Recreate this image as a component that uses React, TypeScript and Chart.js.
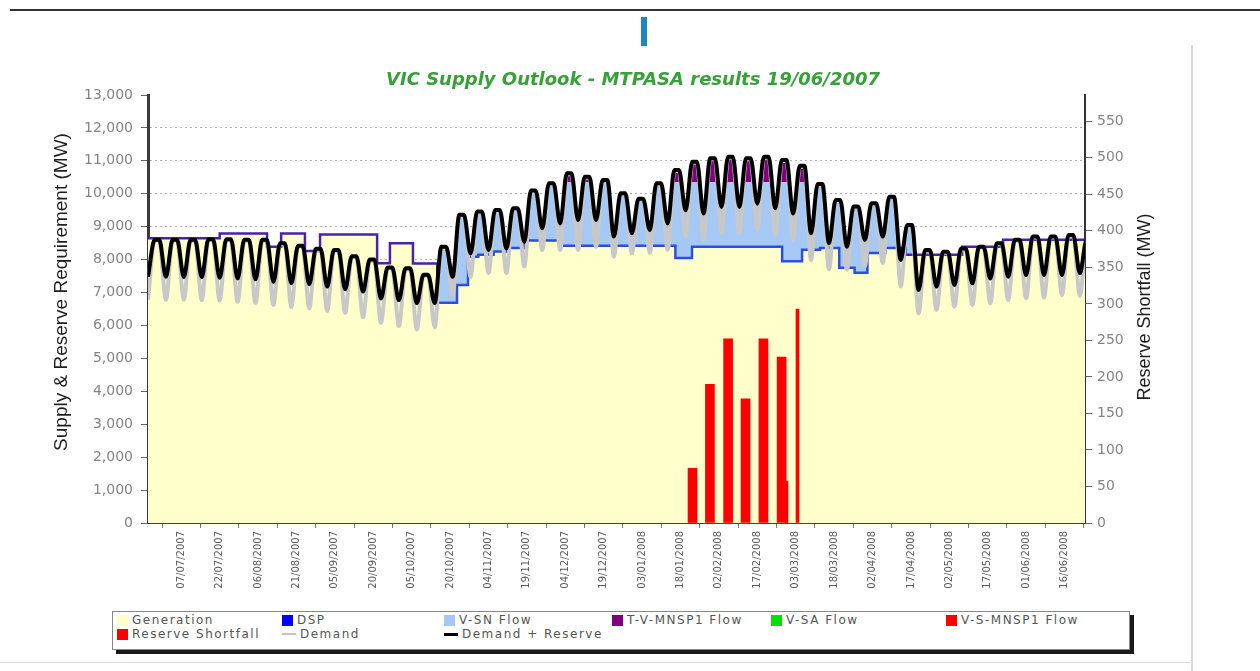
import React, { useEffect, useRef } from 'react';
import { Chart, registerables } from 'chart.js';

Chart.register(...registerables);

// ---------------- data ----------------
const START_DATE_UTC = Date.UTC(2007, 5, 24); // 24/06/2007 = day 0
const X_MAX_DAYS = 366;

const xTickLabels = [
  '07/07/2007', '22/07/2007', '06/08/2007', '21/08/2007', '05/09/2007', '20/09/2007',
  '05/10/2007', '20/10/2007', '04/11/2007', '19/11/2007', '04/12/2007', '19/12/2007',
  '03/01/2008', '18/01/2008', '02/02/2008', '17/02/2008', '03/03/2008', '18/03/2008',
  '02/04/2008', '17/04/2008', '02/05/2008', '17/05/2008', '01/06/2008', '16/06/2008',
];

// Demand + Reserve: weekly low (weekend) and weekday high, MW
const demandReserveLows = [
  7480, 7480, 7470, 7470, 7450, 7430, 7400, 7330, 7280, 7250, 7180, 7100, 7030, 6820, 6770, 6680,
  6680, 7480, 8190, 8290, 8340, 8545, 8950, 9100, 9200, 9200, 8700, 8800, 8900, 9100, 9500, 9400,
  9600, 9600, 9700, 9560, 9400, 8800, 8500, 8390, 8600, 8700, 7990, 7080, 7180, 7230, 7280, 7430,
  7480, 7530, 7530, 7530, 7585,
];
const demandReserveHighs = [
  8600, 8600, 8600, 8620, 8620, 8600, 8600, 8500, 8420, 8330, 8290, 8100, 8000, 7760, 7740, 7540,
  8390, 9360, 9460, 9510, 9560, 10100, 10320, 10620, 10520, 10420, 10015, 9850, 10320, 10720, 10975, 11080,
  11125, 11080, 11125, 11025, 10850, 10300, 9810, 9610, 9710, 9910, 9050, 8290, 8240, 8340, 8390, 8495,
  8600, 8700, 8700, 8750, 8600,
];

// Demand: weekly low and weekday high, MW
const demandLows = [
  6780, 6780, 6780, 6770, 6760, 6720, 6680, 6620, 6560, 6520, 6440, 6380, 6250, 6080, 5980, 5880,
  5940, 6900, 7480, 7590, 7590, 7790, 8290, 8290, 8290, 8390, 8090, 8190, 8200, 8300, 8700, 8600,
  8800, 8800, 8900, 8760, 8600, 7990, 7700, 7690, 7800, 7900, 7180, 6370, 6470, 6570, 6620, 6670,
  6770, 6825, 6850, 6925, 6900,
];
const demandHighs = [
  8570, 8570, 8570, 8590, 8590, 8570, 8570, 8470, 8390, 8300, 8260, 8070, 7970, 7730, 7710, 7510,
  8360, 9330, 9430, 9480, 9530, 10070, 10290, 10590, 10490, 10390, 9985, 9820, 10290, 10690, 10945, 11050,
  11095, 11050, 11095, 10995, 10820, 10270, 9780, 9580, 9680, 9880, 9020, 8260, 8210, 8310, 8360, 8465,
  8570, 8670, 8670, 8720, 8570,
];

// T-V-MNSP1 flow at the weekday highs (MW)
const tvFlowHighs = [
  0, 0, 0, 0, 0, 0, 0, 0, 0, 0, 0, 0, 0, 0, 0, 0,
  0, 0, 0, 0, 0, 0, 0, 270, 170, 0, 0, 0, 0, 370, 620, 730,
  775, 730, 775, 675, 500, 0, 0, 0, 0, 0, 0, 0, 0, 0, 0, 0,
  0, 0, 0, 0, 0,
];
// weeks in which V-SN / T-V-MNSP1 flows are imported
const flowWeeks = [16, 43];

// Generation (+DSP) level, held from each day until the next
const genStepDays = [0, 28, 46.5, 52, 61.3, 67.2, 89.5, 94.5, 103.5, 113, 120.7, 125, 129, 135, 141, 147, 161, 206, 212.5, 247.7, 255.5, 262.5, 270, 276, 281, 288, 296, 318, 334];
const genStepValues = [8650, 8790, 8390, 8790, 8260, 8760, 7890, 8500, 7880, 6690, 7230, 8090, 8150, 8250, 8350, 8580, 8420, 8050, 8390, 7950, 8300, 8350, 7750, 7600, 8200, 8350, 8150, 8390, 8600];
const importDays = [113, 296];

// Reserve shortfall (MW, right axis)
const shortfallDays = [212.7, 219.5, 226.6, 233.4, 240.4, 247.5];
const shortfallValues = [75, 190, 252, 170, 252, 227];
const shortfallThinDays = [249.4, 253.7];
const shortfallThinValues = [57, 293];

const legendNames = ['Generation', 'DSP', 'V-SN Flow', 'T-V-MNSP1 Flow', 'V-SA Flow', 'V-S-MNSP1 Flow', 'Reserve Shortfall', 'Demand', 'Demand + Reserve'];
const legendColors = ['#ffffcc', '#0000ff', '#a6c8f5', '#800080', '#00e000', '#ff0000', '#ff0000', '#c4c4c4', '#000000'];
const legendKinds = ['box', 'box', 'box', 'box', 'box', 'box', 'box', 'line', 'line'];

// ---------------- helpers ----------------
const DAY_MS = 86400000;
const dayOfLabel = (s: string) => {
  const [d, m, y] = s.split('/').map(Number);
  return Math.round((Date.UTC(y, m - 1, d) - START_DATE_UTC) / DAY_MS);
};
const xTickDays = xTickLabels.map(dayOfLabel);

// weekend low on day 7k; weekday high held across the middle of the week
const WEEKDAY_SPAN = [2.6, 4.4];
const weekly = (lows: number[], highs: number[], first: number, last: number, finalHigh: boolean) => {
  const pts: { x: number; y: number }[] = [];
  for (let k = first; k <= last; k++) {
    pts.push({ x: 7 * k, y: lows[k] });
    if (k < last || finalHigh) {
      pts.push({ x: 7 * k + WEEKDAY_SPAN[0], y: highs[k] });
      pts.push({ x: 7 * k + WEEKDAY_SPAN[1], y: highs[k] });
    }
  }
  return pts;
};

const YELLOW = '#ffffcc';
const LIGHTBLUE = '#a6c8f5';
const PURPLE = '#800080';
const CLEAR = 'rgba(0,0,0,0)';

export default function App() {
  const ref = useRef<HTMLCanvasElement | null>(null);

  useEffect(() => {
    if (!ref.current) return;
    const last = demandReserveLows.length - 1;
    const drPts = weekly(demandReserveLows, demandReserveHighs, 0, last, true);
    const demPts = weekly(demandLows, demandHighs, 0, last, true);
    const snHighs = demandReserveHighs.map((v, i) => v - tvFlowHighs[i]);
    const snPts = weekly(demandReserveLows, snHighs, flowWeeks[0], flowWeeks[1], false);
    const tvPts = weekly(demandReserveLows, demandReserveHighs, flowWeeks[0], flowWeeks[1], false);
    const genPts = genStepDays.map((d, i) => ({ x: d, y: genStepValues[i] }));
    genPts.push({ x: X_MAX_DAYS, y: genStepValues[genStepValues.length - 1] });
    const dspPts = genPts.map((p) => ({ x: p.x, y: p.y }));
    const sfPts = shortfallDays.map((d, i) => ({ x: d, y: shortfallValues[i] }));
    const sfThinPts = shortfallThinDays.map((d, i) => ({ x: d, y: shortfallThinValues[i] }));

    const tickFont = { family: "'DejaVu Sans', sans-serif", size: 14 };

    const textPlugin = {
      id: 'texts',
      afterDraw(chart: any) {
        const ctx = chart.ctx;
        ctx.save();
        ctx.fillStyle = '#38a038';
        ctx.font = "italic bold 18px 'DejaVu Sans', sans-serif";
        ctx.textAlign = 'center';
        ctx.textBaseline = 'middle';
        ctx.fillText('VIC Supply Outlook - MTPASA results 19/06/2007', 633, 20);
        ctx.fillStyle = '#1e1e1e';
        ctx.font = "19px 'Liberation Sans', Arial, sans-serif";
        ctx.translate(62, 232);
        ctx.rotate(-Math.PI / 2);
        ctx.fillText('Supply & Reserve Requirement (MW)', 0, 0);
        ctx.restore();
        ctx.save();
        ctx.fillStyle = '#1e1e1e';
        ctx.font = "18px 'Liberation Sans', Arial, sans-serif";
        ctx.textAlign = 'center';
        ctx.textBaseline = 'middle';
        ctx.translate(1145, 247);
        ctx.rotate(-Math.PI / 2);
        ctx.fillText('Reserve Shortfall (MW)', 0, 0);
        ctx.restore();
      },
    };

    const chart = new Chart(ref.current, {
      type: 'line',
      data: {
        datasets: [
          {
            label: legendNames[0], data: genPts, stepped: true, fill: 'origin',
            backgroundColor: YELLOW, borderWidth: 0, pointRadius: 0, order: 6,
          },
          {
            label: legendNames[1], data: dspPts, stepped: true, fill: false,
            borderColor: '#2b4fd8', borderWidth: 2.5, pointRadius: 0, order: 3,
            segment: {
              borderColor: (c: any) => {
                const x = c.p0.parsed.x;
                return x >= importDays[0] && x < importDays[1] ? '#2b4fd8' : '#4a22a8';
              },
            },
          },
          {
            label: legendNames[2], data: snPts, cubicInterpolationMode: 'monotone',
            fill: { target: 1, above: LIGHTBLUE, below: CLEAR },
            backgroundColor: LIGHTBLUE, borderWidth: 0, pointRadius: 0, order: 5,
          },
          {
            label: legendNames[3], data: tvPts, cubicInterpolationMode: 'monotone',
            fill: { target: 2, above: PURPLE, below: CLEAR },
            backgroundColor: PURPLE, borderColor: CLEAR, borderWidth: 0, pointRadius: 0, order: 4,
          },
          { label: legendNames[4], data: [], borderColor: legendColors[4], pointRadius: 0, order: 7 },
          { label: legendNames[5], data: [], borderColor: legendColors[5], pointRadius: 0, order: 7 },
          {
            type: 'bar', label: legendNames[6], data: sfPts, yAxisID: 'y1',
            backgroundColor: '#ff0000', barThickness: 9, grouped: false, order: 2,
          } as any,
          {
            type: 'bar', label: legendNames[6], data: sfThinPts, yAxisID: 'y1',
            backgroundColor: '#ff0000', barThickness: 3, grouped: false, order: 2,
          } as any,
          {
            label: legendNames[7], data: demPts, borderColor: '#c8c8c8', borderWidth: 4,
            cubicInterpolationMode: 'monotone', borderJoinStyle: 'round', fill: false, pointRadius: 0, order: 1,
          },
          {
            label: legendNames[8], data: drPts, borderColor: '#000000', borderWidth: 4,
            cubicInterpolationMode: 'monotone', fill: false, pointRadius: 0, order: 0,
          },
        ],
      },
      options: {
        responsive: false,
        animation: false,
        devicePixelRatio: 1,
        layout: { padding: { top: 35, left: 0, right: 0, bottom: 0 } },
        plugins: { legend: { display: false }, tooltip: { enabled: false }, title: { display: false } },
        scales: {
          x: {
            type: 'linear', min: 0, max: X_MAX_DAYS, offset: false,
            afterBuildTicks: (s: any) => { s.ticks = xTickDays.map((v) => ({ value: v })); },
            afterFit: (s: any) => { s.height = 82; },
            ticks: {
              autoSkip: false, maxRotation: 90, minRotation: 90, padding: 3,
              font: { family: "'DejaVu Sans', sans-serif", size: 10 }, color: '#5a5a5a',
              callback: (v: any) => xTickLabels[xTickDays.indexOf(Number(v))] ?? '',
            },
            grid: { drawOnChartArea: false, tickLength: 5, color: '#777' },
            border: { color: '#444', width: 2 },
          },
          y: {
            position: 'left', min: 0, max: 13000,
            afterFit: (s: any) => { s.width = 148; },
            ticks: {
              stepSize: 1000, padding: 8, font: tickFont, color: '#858585',
              callback: (v: any) => Number(v).toLocaleString('en-US'),
            },
            grid: {
              color: (c: any) => (c.tick && (c.tick.value === 0 || c.tick.value === 13000) ? CLEAR : '#b0b0b0'),
              tickColor: '#666', tickLength: 7, lineWidth: 1,
            },
            border: { color: '#3a3a3a', width: 3, dash: [2, 3] },
          },
          y1: {
            position: 'right', min: 0, max: 586,
            afterFit: (s: any) => { s.width = 105; },
            ticks: { stepSize: 50, includeBounds: false, padding: 5, font: tickFont, color: '#858585' },
            grid: { drawOnChartArea: false, tickColor: '#666', tickLength: 7 },
            border: { color: '#333', width: 2 },
          },
        },
      },
      plugins: [textPlugin],
    } as any);
    return () => chart.destroy();
  }, []);

  const cols = [117, 282, 444, 612, 771, 946];
  const rows = [614, 628];

  return (
    <div style={{ position: 'absolute', left: 0, top: 0, width: 1260, height: 671, background: '#fff', overflow: 'hidden' }}>
      <div style={{ position: 'absolute', left: 10, top: 9, width: 1250, height: 2, background: '#333' }} />
      <div style={{ position: 'absolute', left: 641, top: 17, width: 6, height: 29, background: '#1f86c6' }} />
      <div style={{ position: 'absolute', left: 1191, top: 45, width: 2, height: 626, background: '#d6d6d6' }} />
      <div style={{ position: 'absolute', left: 0, top: 662, width: 1192, height: 1, background: '#dddddd' }} />
      <canvas ref={ref} width={1190} height={545} style={{ position: 'absolute', left: 0, top: 60, width: 1190, height: 545 }} />
      <div style={{ position: 'absolute', left: 112, top: 611, width: 1016, height: 37, border: '1px solid #888', boxShadow: '4px 4px 0 #1a1a1a', background: '#fff' }} />
      {legendNames.map((name, i) => {
        const x = cols[i % 6];
        const y = rows[Math.floor(i / 6)];
        const kind = legendKinds[i];
        return (
          <div key={name} style={{ position: 'absolute', left: x, top: y, height: 12, display: 'flex', alignItems: 'center', whiteSpace: 'nowrap' }}>
            {kind === 'box' ? (
              <span style={{ display: 'inline-block', width: 11, height: 11, background: legendColors[i], marginRight: 4 }} />
            ) : (
              <span style={{ display: 'inline-block', width: 14, height: i === 8 ? 3 : 2, background: legendColors[i], marginRight: 4 }} />
            )}
            <span style={{ fontFamily: "'DejaVu Sans', sans-serif", fontSize: 12, letterSpacing: 1.5, color: '#555', lineHeight: '12px' }}>{name}</span>
          </div>
        );
      })}
    </div>
  );
}
